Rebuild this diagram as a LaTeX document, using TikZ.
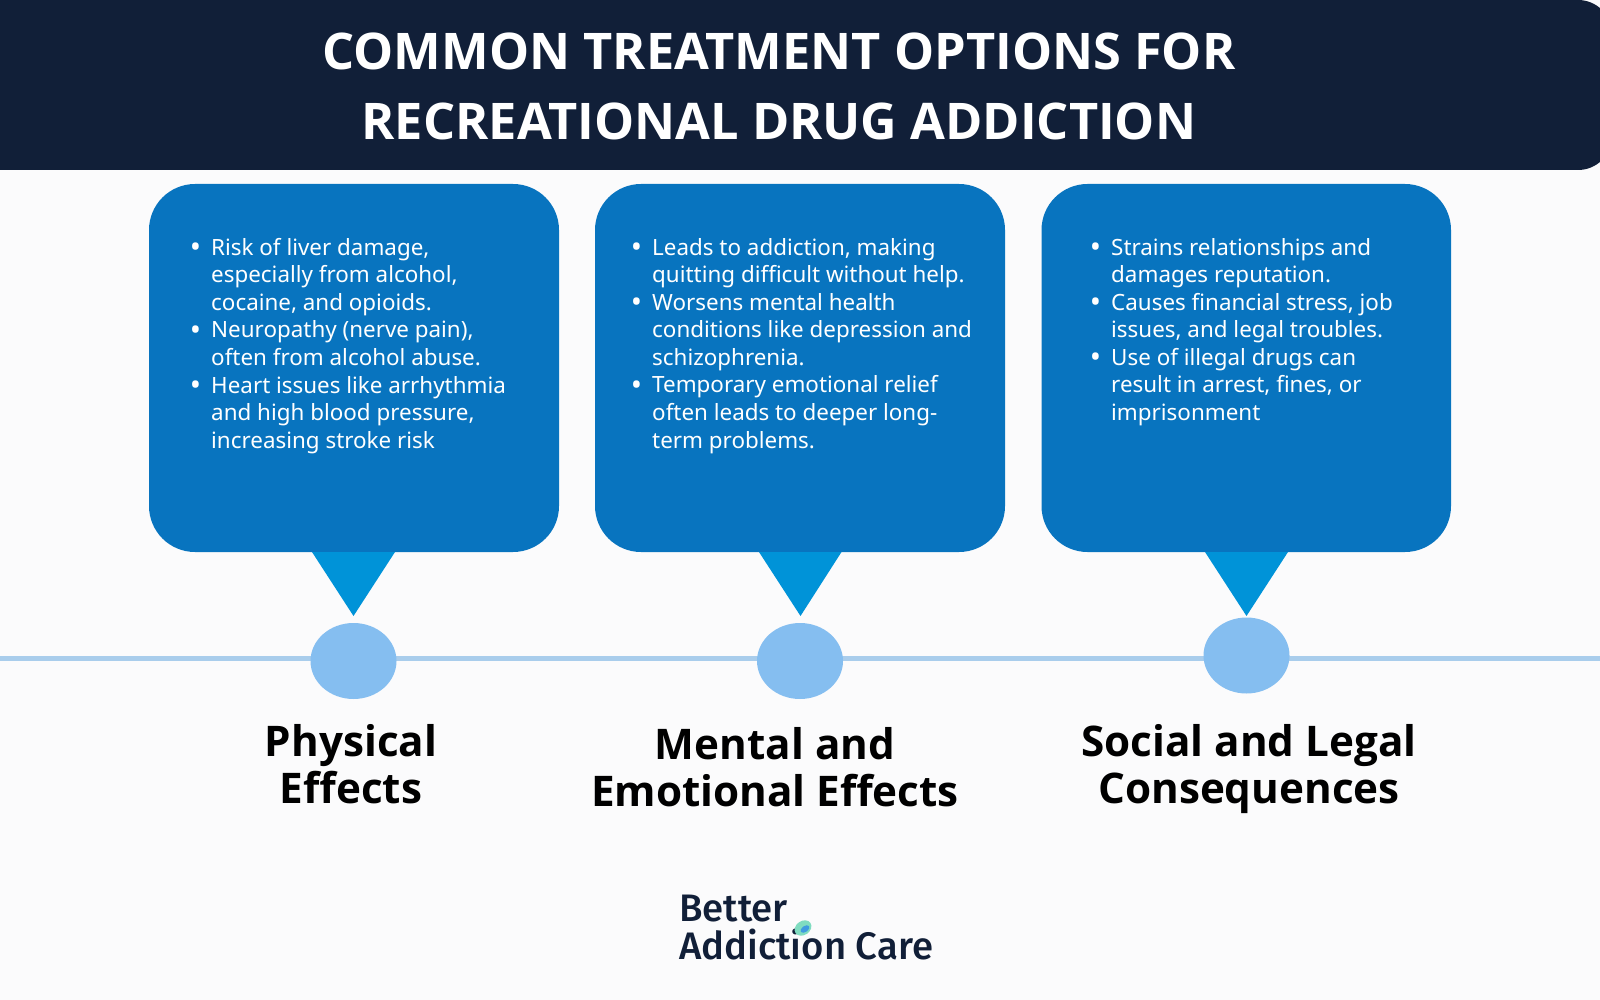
\documentclass[tikz,border=0pt]{standalone}
\usepackage{fontspec}
\setmainfont{Noto Sans}[BoldFont={Open Sans Bold}]
\newfontfamily\logofont{Fira Sans Medium}
\definecolor{pagebg}{HTML}{FBFBFC}
\definecolor{headbg}{HTML}{111F38}
\definecolor{boxblue}{HTML}{0874BF}
\definecolor{tipblue}{HTML}{0093D8}
\definecolor{dotblue}{HTML}{85BEF0}
\definecolor{lineblue}{HTML}{A9CDEC}
\definecolor{leafgreen}{HTML}{7FDCC0}
\definecolor{leafblue}{HTML}{3F9BE0}
\newcommand{\bl}{\leavevmode\llap{\raisebox{-0.11em}{\fontsize{30}{30}\selectfont •}\hspace{10pt}}}
\tikzset{
  x=1pt,y=-1pt,
  panel/.style={fill=boxblue,rounded corners=46pt},
  tip/.style={fill=tipblue},
  dot/.style={ellipse,fill=dotblue,minimum width=86pt,minimum height=76pt,inner sep=0pt},
  bodytext/.style={anchor=north west,inner sep=0pt,align=left,text=white,font=\fontsize{22.4}{27.55}\selectfont},
  headtext/.style={align=center,inner sep=0pt,font=\bfseries\fontsize{42.2}{47}\selectfont,text=black},
  titletext/.style={align=center,inner sep=0pt,font=\bfseries\fontsize{50.5}{70}\selectfont,text=white},
  logotext/.style={anchor=base west,inner sep=0pt,text=headbg,font=\logofont\fontsize{38.3}{38}\selectfont},
}
\usetikzlibrary{shapes.geometric}
\begin{document}
\begin{tikzpicture}
\useasboundingbox (0,0) rectangle (1600,1000);
\clip (0,0) rectangle (1600,1000);
\fill[pagebg] (0,0) rectangle (1600,1000);
% header
\fill[headbg] (0,0) rectangle (1500,170);
\fill[headbg,rounded corners=34pt] (1400,0) rectangle (1612,170);
\node[titletext] (title) at (779,86) {COMMON TREATMENT OPTIONS FOR\\RECREATIONAL DRUG ADDICTION};
% timeline
\coordinate (tlA) at (0,658);
\coordinate (tlB) at (1600,658);
\draw[lineblue,line width=5pt] (tlA) -- (tlB);
% panels
\fill[panel] (149,184) rectangle (559,552);
\fill[panel] (595,184) rectangle (1005,552);
\fill[panel] (1041.5,184) rectangle (1451,552);
% tips
\fill[tip] (312,552) -- (395,552) -- (353.5,616) -- cycle;
\fill[tip] (759,552) -- (841.5,552) -- (800.5,616) -- cycle;
\fill[tip] (1205,552) -- (1288,552) -- (1246.5,616) -- cycle;
% dots
\node[dot] (d1) at (353.5,661) {};
\node[dot] (d2) at (800,661) {};
\node[dot] (d3) at (1246.5,655.5) {};
% body
\node[bodytext] (b1) at (211,238) {\bl Risk of liver damage,\\especially from alcohol,\\cocaine, and opioids.\\\bl Neuropathy (nerve pain),\\often from alcohol abuse.\\\bl Heart issues like arrhythmia\\and high blood pressure,\\increasing stroke risk};
\node[bodytext] (b2) at (652,238) {\bl Leads to addiction, making\\quitting difficult without help.\\\bl Worsens mental health\\conditions like depression and\\schizophrenia.\\\bl Temporary emotional relief\\often leads to deeper long-\\term problems.};
\node[bodytext] (b3) at (1111,238) {\bl Strains relationships and\\damages reputation.\\\bl Causes financial stress, job\\issues, and legal troubles.\\\bl Use of illegal drugs can\\result in arrest, fines, or\\imprisonment};
% headings
\node[headtext] (h1) at (351,764) {Physical\\Effects};
\node[headtext] (h2) at (775,767) {Mental and\\Emotional Effects};
\node[headtext] (h3) at (1249,769) {Social and Legal\\Consequences};
% logo
\node[logotext] (l1) at (679,921) {Better};
\node[logotext] (l2) at (679,959) {Addiction Care};
\fill[leafgreen,rotate around={35:(803,928)}] (803,928) ellipse (9pt and 7pt);
\fill[leafblue,rotate around={35:(805,929)}] (805,929) ellipse (5pt and 3pt);
\end{tikzpicture}
\end{document}
